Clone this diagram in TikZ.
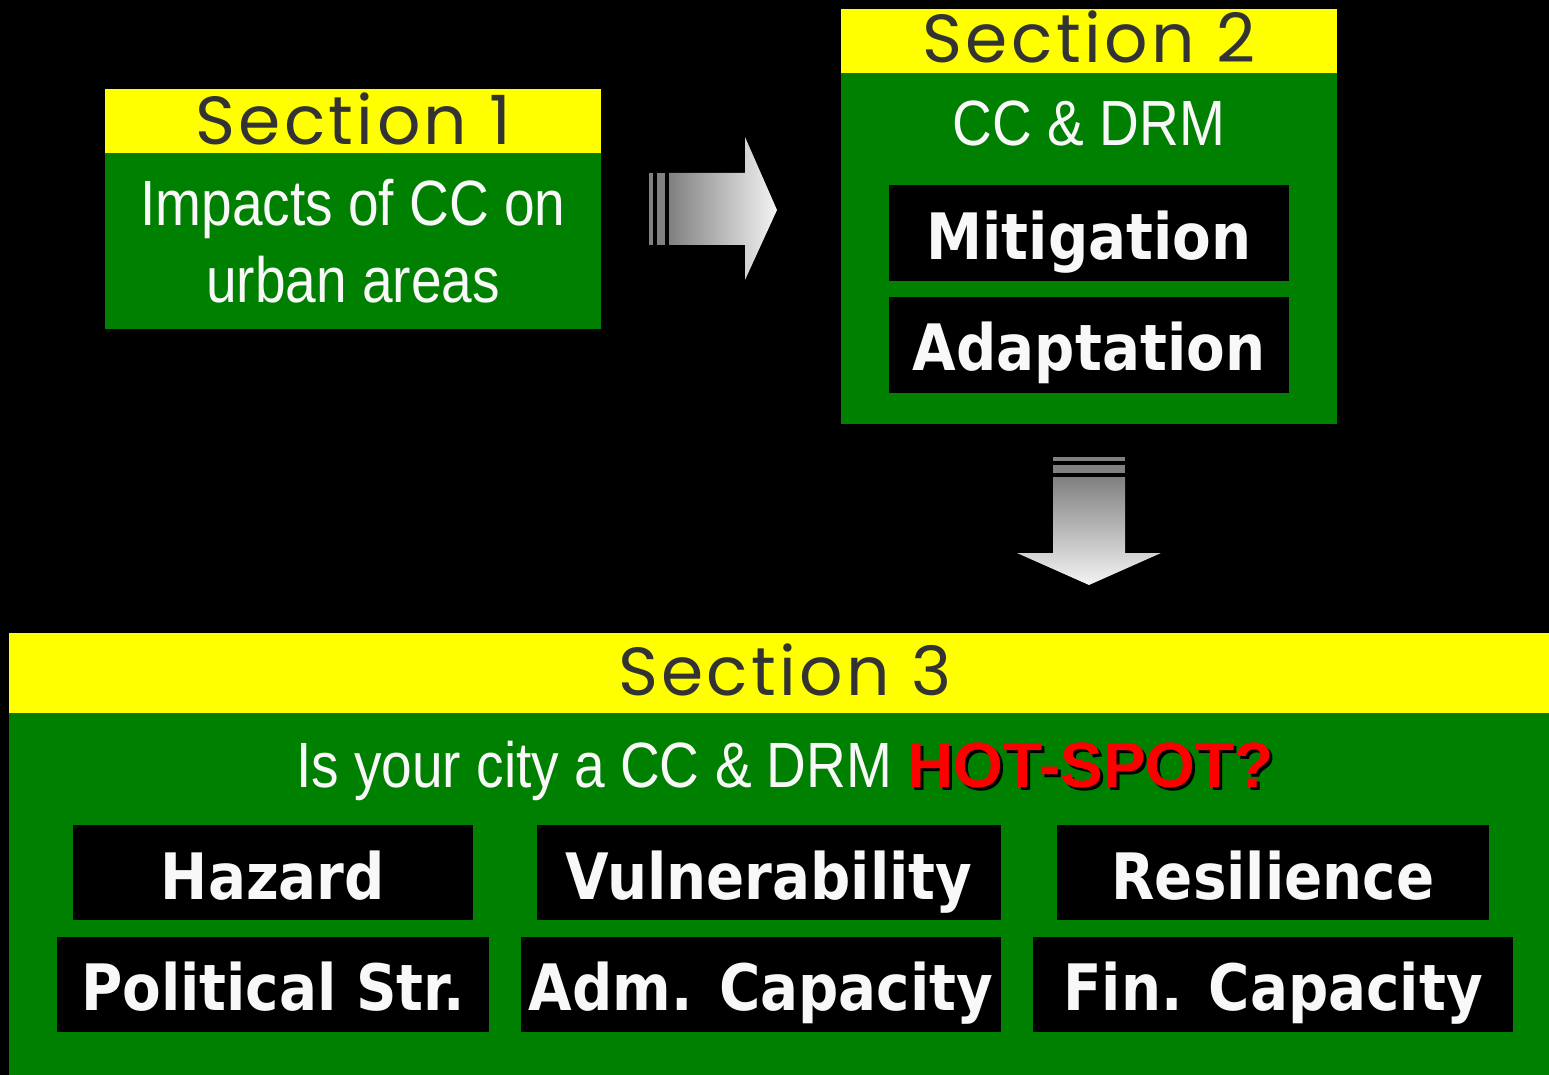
\documentclass[tikz,border=0pt]{standalone}
\usepackage{fontspec}
\setmainfont{Liberation Sans}
\newfontfamily\hdrfont[LetterSpace=5]{Poppins}
\newfontfamily\narrowfont[FakeStretch=0.86]{Liberation Sans}
\newfontfamily\boxfont[FakeStretch=0.88]{DejaVu Sans Bold}
\newfontfamily\hotfont{Liberation Sans Bold}
\definecolor{secgreen}{HTML}{008000}
\definecolor{secyellow}{HTML}{FFFF00}
\definecolor{hdrgray}{HTML}{333333}
\definecolor{txtwhite}{HTML}{F8F8F8}
\definecolor{arrgray}{HTML}{808080}
\definecolor{arrwhite}{HTML}{F4F4F4}
\tikzset{
  hdrtext/.style={anchor=base, inner sep=0pt, text=hdrgray, font=\hdrfont\fontsize{68}{80}\selectfont},
  bodytext/.style={anchor=base, inner sep=0pt, text=txtwhite, font=\narrowfont\fontsize{64}{76}\selectfont},
  tagtext/.style={anchor=base, inner sep=0pt, text=txtwhite, font=\boxfont\fontsize{64}{76}\selectfont},
}
\begin{document}
\begin{tikzpicture}[x=1pt,y=-1pt]
\useasboundingbox (0,0) rectangle (1549,1075);
\fill[black] (0,0) rectangle (1549,1075);

% ---------- Section 1 ----------
\fill[secyellow] (105,89) rectangle (601,153);
\fill[secgreen] (105,153) rectangle (601,329);
\node[hdrtext] (s1h) at (353,145) {Section 1};
\node[bodytext] (s1a) at (353,226) {Impacts of CC on};
\node[bodytext] (s1b) at (353,302) {urban areas};

% ---------- Section 2 ----------
\fill[secyellow] (841,9) rectangle (1337,73);
\fill[secgreen] (841,73) rectangle (1337,424);
\node[hdrtext] (s2h) at (1089,63) {Section 2};
\node[bodytext] (s2a) at (1089,146) {CC \& DRM};
\fill[black] (889,185) rectangle (1289,281);
\node[tagtext] (mit) at (1089,259) {Mitigation};
\fill[black] (889,297) rectangle (1289,393);
\node[tagtext] (ada) at (1089,370) {Adaptation};

% ---------- Right arrow ----------
\fill[arrgray] (649,173) rectangle (653,245);
\fill[arrgray] (657,173) rectangle (665,245);
\shade[left color=arrgray, right color=arrwhite]
  (669,173) -- (745,173) -- (745,137) -- (777,210) -- (745,280) -- (745,245) -- (669,245) -- cycle;

% ---------- Down arrow ----------
\fill[arrgray] (1053,457) rectangle (1125,461);
\fill[arrgray] (1053,465) rectangle (1125,473);
\shade[top color=arrgray, bottom color=arrwhite]
  (1053,477) -- (1125,477) -- (1125,553) -- (1161,553) -- (1089,585) -- (1017,553) -- (1053,553) -- cycle;

% ---------- Section 3 ----------
\fill[secyellow] (9,633) rectangle (1549,713);
\fill[secgreen] (9,713) rectangle (1549,1075);
\node[hdrtext] (s3h) at (785,695) {Section 3};
\node[bodytext] (s3q) at (785,787) {Is your city a CC \& DRM {\hotfont\fontsize{64}{76}\selectfont\rlap{\hspace{3pt}\raisebox{-3pt}{\textcolor{black}{HOT-SPOT?}}}\textcolor{red}{HOT-SPOT?}}};

\fill[black] (73,825) rectangle (473,920);
\node[tagtext] (haz) at (273,899) {Hazard};
\fill[black] (537,825) rectangle (1001,920);
\node[tagtext] (vul) at (769,899) {Vulnerability};
\fill[black] (1057,825) rectangle (1489,920);
\node[tagtext] (res) at (1273,899) {Resilience};

\fill[black] (57,937) rectangle (489,1032);
\node[tagtext] (pol) at (273,1010) {Political Str.};
\fill[black] (521,937) rectangle (1001,1032);
\node[tagtext] (adm) at (761,1010) {Adm. Capacity};
\fill[black] (1033,937) rectangle (1513,1032);
\node[tagtext] (fin) at (1273,1010) {Fin. Capacity};
\end{tikzpicture}
\end{document}
